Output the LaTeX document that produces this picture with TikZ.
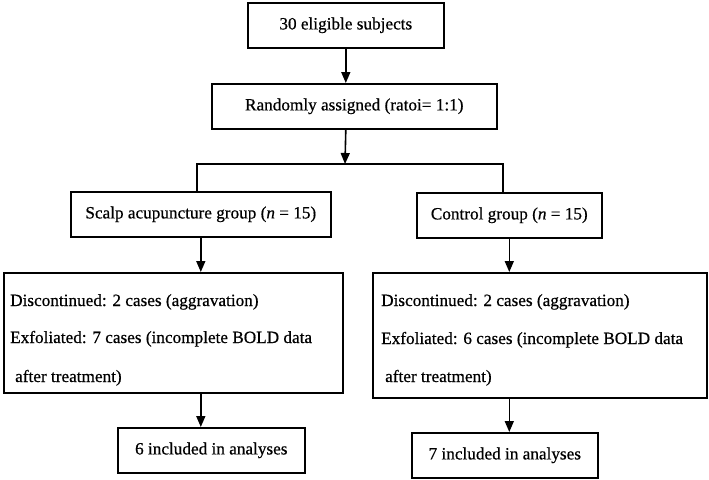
\documentclass[tikz,border=0pt]{standalone}
\usepackage{fontspec}
\setmainfont{Liberation Serif}[RawFeature={embolden=0.6}]
\usetikzlibrary{arrows.meta}
\begin{document}
\begin{tikzpicture}[x=1pt,y=-1pt,
  box/.style={draw, line width=1.6pt, inner sep=0pt, anchor=north west, font=\fontsize{17.2}{20}\selectfont},
  lbl/.style={inner sep=0pt, anchor=base west, font=\fontsize{17.2}{20}\selectfont},
  arr/.style={line width=1.6pt, -{Triangle[length=11pt,width=9pt]}},
  ln/.style={line width=1.6pt}]
\useasboundingbox (0,0) rectangle (709,479);
\node[box, minimum width=196pt, minimum height=45pt] (b1) at (247,2) {30 eligible subjects};
\node[box, minimum width=285pt, minimum height=45pt] (b2) at (211,83) {Randomly assigned (ratoi= 1:1)};
\node[box, minimum width=260pt, minimum height=45pt] (b3) at (70,191) {Scalp acupuncture group (\textit{n} = 15)};
\node[box, minimum width=185pt, minimum height=45pt] (b4) at (416,192) {Control group (\textit{n} = 15)};
\node[box, minimum width=339pt, minimum height=120pt] (b5) at (3,272) {};
\node[box, minimum width=334pt, minimum height=125pt] (b6) at (372,272) {};
\node[box, minimum width=187pt, minimum height=45pt] (b7) at (117,427) {6 included in analyses};
\node[box, minimum width=186pt, minimum height=45pt] (b8) at (411,432) {7 included in analyses};
% texts in big boxes
\node[lbl] (t1) at (10,306) {Discontinued: 2 cases (aggravation)};
\node[lbl] (t2) at (10,343) {Exfoliated: 7 cases (incomplete BOLD data};
\node[lbl] (t3) at (15,382) {after treatment)};
\node[lbl] (t4) at (381,306) {Discontinued: 2 cases (aggravation)};
\node[lbl] (t5) at (381,344) {Exfoliated: 6 cases (incomplete BOLD data};
\node[lbl] (t6) at (385,382) {after treatment)};
% connectors
\coordinate (split) at (345,164);
\coordinate (jl) at (197,164);
\coordinate (jr) at (503,164);
\draw[arr] (b1.south) -- (b1.south |- b2.north);
\draw[arr] (b1.south |- b2.south) -- (split);
\draw[ln] (jl |- b3.north) -- (jl) -- (jr) -- (jr |- b4.north);
\draw[arr] (b3.south) -- (b3.south |- b5.north);
\draw[arr] (b3.south |- b5.south) -- (b3.south |- b7.north);
\draw[arr] (b4.south) -- (b4.south |- b6.north);
\draw[arr] (b4.south |- b6.south) -- (b4.south |- b8.north);
\end{tikzpicture}
\end{document}
